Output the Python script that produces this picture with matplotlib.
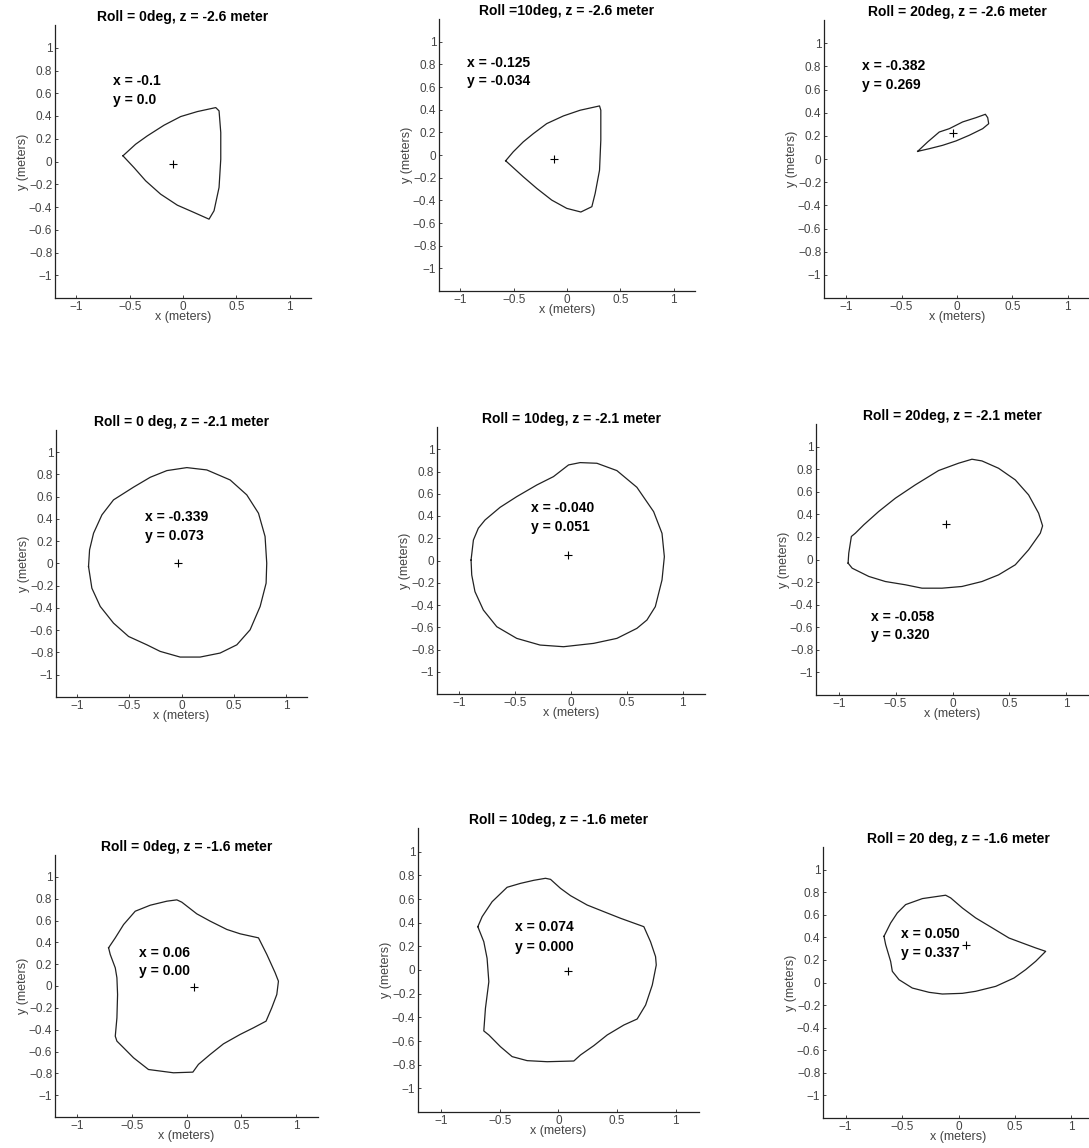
import numpy as np
import matplotlib
matplotlib.use("Agg")
import matplotlib.pyplot as plt
from matplotlib.ticker import FuncFormatter

# workspace outlines, one panel per roll angle (columns) and depth z (rows)
titles = ["Roll = 0deg, z = -2.6 meter", "Roll =10deg, z = -2.6 meter", "Roll = 20deg, z = -2.6 meter",
          "Roll = 0 deg, z = -2.1 meter", "Roll = 10deg, z = -2.1 meter", "Roll = 20deg, z = -2.1 meter",
          "Roll = 0deg, z = -1.6 meter", "Roll = 10deg, z = -1.6 meter", "Roll = 20 deg, z = -1.6 meter"]

readouts = [("x = -0.1", "y = 0.0"), ("x = -0.125", "y = -0.034"), ("x = -0.382", "y = 0.269"),
            ("x = -0.339", "y = 0.073"), ("x = -0.040", "y = 0.051"), ("x = -0.058", "y = 0.320"),
            ("x = 0.06", "y = 0.00"), ("x = 0.074", "y = 0.000"), ("x = 0.050", "y = 0.337")]

# centre marks (+)
center_x = [-0.097, -0.124, -0.033, -0.029, -0.031, -0.060, 0.070, 0.080, 0.064]
center_y = [-0.018, -0.034, 0.225, 0.003, 0.052, 0.316, -0.008, -0.006, 0.335]

r0_z26_x = [-0.563, -0.444, -0.335, -0.178, -0.022, 0.135, 0.307, 0.338, 0.354, 0.354, 0.338, 0.291, 0.244,
            0.103, -0.053, -0.21, -0.35, -0.46, -0.563]
r0_z26_y = [0.05, 0.152, 0.225, 0.319, 0.395, 0.439, 0.474, 0.445, 0.255, 0.02, -0.228, -0.433, -0.507,
            -0.448, -0.384, -0.287, -0.17, -0.053, 0.05]

r10_z26_x = [-0.575, -0.504, -0.41, -0.315, -0.19, -0.033, 0.123, 0.305, 0.317, 0.317, 0.305, 0.264, 0.233,
             0.13, -0.002, -0.143, -0.283, -0.41, -0.575]
r10_z26_y = [-0.051, 0.028, 0.116, 0.189, 0.277, 0.345, 0.395, 0.433, 0.395, 0.131, -0.134, -0.339, -0.456,
             -0.503, -0.471, -0.398, -0.295, -0.192, -0.051]

r20_z26_x = [-0.355, -0.265, -0.16, -0.069, 0.051, 0.172, 0.256, 0.277, 0.286, 0.232, 0.111, -0.009, -0.13,
             -0.25, -0.355]
r20_z26_y = [0.066, 0.147, 0.233, 0.262, 0.32, 0.357, 0.386, 0.357, 0.305, 0.262, 0.205, 0.156, 0.118,
             0.089, 0.066]

r0_z21_x = [-0.889, -0.879, -0.841, -0.761, -0.65, -0.459, -0.299, -0.14, 0.051, 0.242, 0.465, 0.624, 0.736,
            0.799, 0.815, 0.809, 0.752, 0.656, 0.529, 0.369, 0.178, -0.013, -0.204, -0.331, -0.506, -0.65,
            -0.777, -0.857, -0.889]
r0_z21_y = [-0.027, 0.123, 0.272, 0.437, 0.572, 0.686, 0.775, 0.835, 0.862, 0.841, 0.751, 0.617, 0.452,
            0.243, 0.003, -0.177, -0.386, -0.596, -0.731, -0.805, -0.841, -0.841, -0.79, -0.731, -0.656,
            -0.536, -0.386, -0.222, -0.027]

r10_z21_x = [-0.895, -0.874, -0.83, -0.77, -0.635, -0.486, -0.306, -0.157, -0.022, 0.082, 0.232, 0.411, 0.59,
             0.74, 0.815, 0.836, 0.815, 0.755, 0.68, 0.59, 0.411, 0.202, -0.067, -0.277, -0.486, -0.665,
             -0.785, -0.86, -0.889, -0.895]
r10_z21_y = [0.004, 0.184, 0.29, 0.364, 0.478, 0.574, 0.679, 0.754, 0.859, 0.88, 0.874, 0.808, 0.658, 0.439,
             0.244, 0.034, -0.175, -0.415, -0.535, -0.61, -0.7, -0.745, -0.775, -0.76, -0.7, -0.595, -0.445,
             -0.28, -0.13, 0.004]

r20_z21_x = [-0.918, -0.912, -0.889, -0.854, -0.78, -0.649, -0.502, -0.327, -0.122, 0.054, 0.171, 0.259,
             0.405, 0.552, 0.669, 0.757, 0.792, 0.772, 0.669, 0.552, 0.405, 0.259, 0.083, -0.092, -0.268,
             -0.414, -0.59, -0.736, -0.882, -0.918]
r20_z21_y = [-0.032, 0.056, 0.204, 0.233, 0.307, 0.425, 0.543, 0.661, 0.788, 0.853, 0.888, 0.873, 0.808,
             0.705, 0.572, 0.41, 0.298, 0.233, 0.086, -0.047, -0.136, -0.195, -0.239, -0.254, -0.254, -0.224,
             -0.195, -0.15, -0.077, -0.032]

r0_z16_x = [-0.711, -0.65, -0.574, -0.468, -0.331, -0.179, -0.088, -0.043, 0.094, 0.216, 0.368, 0.49, 0.657,
            0.733, 0.809, 0.839, 0.824, 0.778, 0.726, 0.611, 0.489, 0.337, 0.216, 0.109, 0.058, -0.119,
            -0.347, -0.483, -0.574, -0.635, -0.65, -0.635, -0.629, -0.635, -0.65, -0.696, -0.711]
r0_z16_y = [0.35, 0.441, 0.563, 0.685, 0.74, 0.777, 0.789, 0.768, 0.661, 0.594, 0.518, 0.478, 0.441, 0.289,
            0.121, 0.044, -0.078, -0.2, -0.322, -0.383, -0.444, -0.53, -0.627, -0.718, -0.789, -0.795,
            -0.765, -0.658, -0.566, -0.505, -0.46, -0.292, -0.078, 0.075, 0.166, 0.289, 0.35]

r10_z16_x = [-0.689, -0.652, -0.567, -0.439, -0.325, -0.211, -0.111, -0.068, 0.017, 0.103, 0.245, 0.387,
             0.53, 0.729, 0.786, 0.829, 0.835, 0.801, 0.744, 0.672, 0.558, 0.416, 0.302, 0.188, 0.131, -0.097,
             -0.268, -0.396, -0.496, -0.595, -0.638, -0.624, -0.595, -0.61, -0.638, -0.689]
r10_z16_y = [0.366, 0.451, 0.577, 0.699, 0.732, 0.758, 0.775, 0.766, 0.69, 0.628, 0.549, 0.493, 0.437, 0.366,
             0.239, 0.113, 0.042, -0.127, -0.296, -0.414, -0.465, -0.549, -0.639, -0.718, -0.769, -0.775,
             -0.766, -0.732, -0.648, -0.549, -0.515, -0.324, -0.099, 0.099, 0.239, 0.366]

r20_z16_x = [-0.66, -0.601, -0.542, -0.468, -0.32, -0.114, -0.069, 0.034, 0.152, 0.3, 0.447, 0.565, 0.684,
             0.772, 0.684, 0.595, 0.492, 0.33, 0.152, 0.034, -0.143, -0.261, -0.409, -0.527, -0.586, -0.601,
             -0.645, -0.66]
r20_z16_y = [0.409, 0.527, 0.616, 0.69, 0.743, 0.773, 0.749, 0.66, 0.572, 0.483, 0.394, 0.35, 0.306, 0.276,
             0.188, 0.114, 0.04, -0.034, -0.078, -0.096, -0.102, -0.087, -0.049, 0.025, 0.099, 0.187, 0.335,
             0.409]

outlines = [(r0_z26_x, r0_z26_y), (r10_z26_x, r10_z26_y), (r20_z26_x, r20_z26_y),
            (r0_z21_x, r0_z21_y), (r10_z21_x, r10_z21_y), (r20_z21_x, r20_z21_y),
            (r0_z16_x, r0_z16_y), (r10_z16_x, r10_z16_y), (r20_z16_x, r20_z16_y)]

x_ticks = [-1, -0.5, 0, 0.5, 1]
y_ticks = [-1, -0.8, -0.6, -0.4, -0.2, 0, 0.2, 0.4, 0.6, 0.8, 1]

# layout: axes boxes in pixels (left, top, width, height) and readout text anchors
W, H = 1089, 1148
boxes = [(55, 25, 256, 273), (439, 19, 256, 272), (824, 20, 266, 278),
         (56, 430, 251, 267), (437, 427, 268, 267), (816, 424, 273, 271),
         (55, 855, 263, 262), (418, 828, 281, 284), (823, 847, 271, 271)]
text_pos = [(-0.66, 0.71), (-0.934, 0.815), (-0.858, 0.804),
            (-0.347, 0.416), (-0.36, 0.469), (-0.713, -0.507),
            (-0.429, 0.298), (-0.368, 0.361), (-0.513, 0.43)]
line_gap = 0.165


def matlab_tick(v, pos):
    if abs(v) < 1e-9:
        return '0'
    return ('%g' % v).replace('-', '\u2212')


plt.rcParams['font.family'] = ['Liberation Sans', 'DejaVu Sans']
fig = plt.figure(figsize=(W / 100, H / 100), dpi=100)

for i in range(9):
    l, t, w, h = boxes[i]
    ax = fig.add_axes([l / W, 1 - (t + h) / H, w / W, h / H])
    ox, oy = outlines[i]
    ax.plot(ox, oy, color='#222222', lw=0.9)
    ax.plot(center_x[i], center_y[i], marker='+', color='black', ms=6, mew=0.8)
    tx, ty = text_pos[i]
    ax.text(tx, ty, readouts[i][0], fontsize=10, fontweight='bold', va='center', ha='left')
    ax.text(tx, ty - line_gap, readouts[i][1], fontsize=10, fontweight='bold', va='center', ha='left')

    ax.set_xlim(-1.2, 1.2)
    ax.set_ylim(-1.2, 1.2)
    ax.set_xticks(x_ticks)
    ax.set_yticks(y_ticks)
    ax.xaxis.set_major_formatter(FuncFormatter(matlab_tick))
    ax.yaxis.set_major_formatter(FuncFormatter(matlab_tick))
    ax.tick_params(direction='in', length=2.5, width=0.7, labelsize=8.5, labelcolor='#444444',
                   color='#444444', pad=2)
    for s in ['top', 'right']:
        ax.spines[s].set_visible(False)
    for s in ['left', 'bottom']:
        ax.spines[s].set_linewidth(0.9)
        ax.spines[s].set_color('#222222')
    ax.set_xlabel('x (meters)', fontsize=9, color='#444444', labelpad=-1)
    ax.set_ylabel('y (meters)', fontsize=9, color='#444444', labelpad=0)
    ax.set_title(titles[i], fontsize=10, fontweight='bold', pad=3)

fig.savefig('out.png', dpi=100)
